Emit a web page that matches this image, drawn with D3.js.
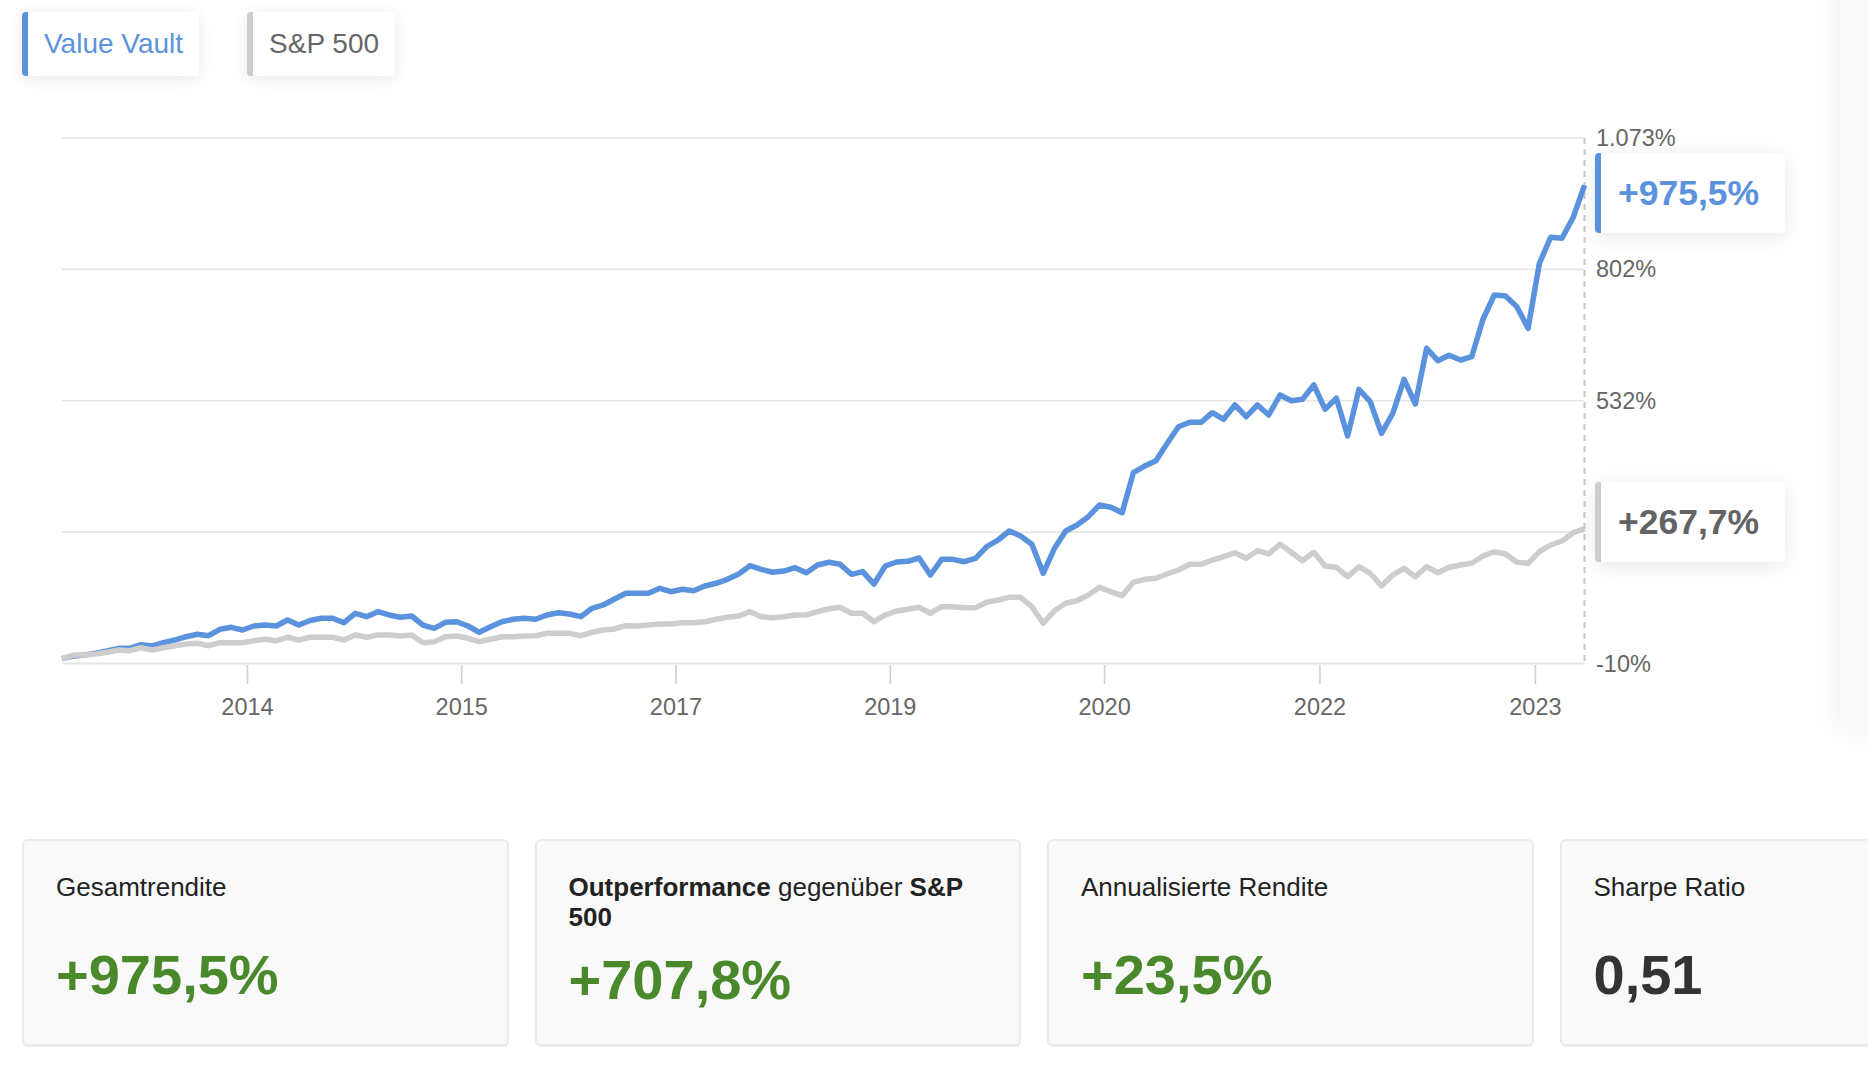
<!DOCTYPE html>
<html><head><meta charset="utf-8">
<script src="https://cdn.jsdelivr.net/npm/d3@7"></script>
<style>
html,body{margin:0;padding:0;background:#fff;width:1868px;height:1066px;overflow:hidden;font-family:"Liberation Sans",Arial,Helvetica,sans-serif;}
#root{position:relative;width:1868px;height:1066px;overflow:hidden;}
#chart{position:absolute;left:0;top:0;}
.legend{position:absolute;top:12px;left:22px;display:flex;gap:48px;}
.lg{height:64px;box-sizing:border-box;background:#fff;border-radius:4px;box-shadow:0 3px 16px rgba(0,0,0,0.09);font-size:28px;line-height:64px;padding:0 16px 0 16px;border-left:6px solid;white-space:nowrap;}
.side{position:absolute;left:1841px;top:-20px;width:80px;height:752px;background:#fafafa;border-radius:10px;box-shadow:-6px 0 26px rgba(0,0,0,0.05);}
.vbox{position:absolute;left:1595px;width:190px;height:80px;box-sizing:border-box;background:#fff;border-radius:4px;border-left:6px solid;box-shadow:0 4px 22px rgba(0,0,0,0.09);font-weight:bold;font-size:35.5px;line-height:80px;padding-left:17px;white-space:nowrap;}
.cards{position:absolute;left:22px;top:839px;display:flex;gap:26px;}
.card{position:relative;width:486.5px;height:208px;box-sizing:border-box;background:#f9f9f9;border:2px solid #ebebeb;border-bottom-width:3px;border-radius:6px;padding:31px 32px 0 32px;flex:none;}
.card .t{font-size:26px;line-height:30px;color:#222;}
.card .v{position:absolute;left:32px;top:102px;font-size:56px;line-height:64px;font-weight:bold;}
.card.two .v{top:107px;}
</style></head>
<body><div id="root"><svg id="chart" width="1868" height="1066"></svg></div>
<script>
// ---- data ----
const seriesNames = ["Value Vault", "S&P 500"];
const valueVault = [0,5.5,7.5,11,15.8,21.3,21.3,28.7,26.1,32.9,
38.4,45.2,50.2,47.3,60.5,64.6,59,67.3,69.3,67.3,
79.6,69.3,78.6,83.2,83.2,74.1,93.5,86.5,96.8,90,
85.2,87.9,69.3,62.5,74.9,76.1,67.3,54.3,65.8,76.1,
81.1,83.2,81.1,90,94.7,92,86.5,103.8,110.6,122.9,
134.7,134.7,134.7,145,138,142.9,140,149.7,155.3,163.5,
174.5,191.6,184.1,178,180.6,187.4,177.1,193,198.6,194.4,
173.8,179.2,153.8,190.9,199.2,200.6,207.4,172.4,204.7,204.7,
199.8,206.8,230.7,244.5,263.1,252.8,235.7,175.9,227.4,263.1,
275.4,292.5,316.7,311.9,300.8,383.2,397,407.9,443.8,478,
487.1,487.1,506.9,493.3,522.7,498.6,522.7,502.1,543.4,531.6,
534.5,564,513.9,536.6,458.9,555.1,529.5,464.4,505.6,575.7,
524.8,639.6,614,625.2,615.5,622.3,699.4,749.4,747.4,725.3,
680.8,814.8,868.4,866.3,909.6,975.5];
const sp500 = [0,7.5,7.5,9.6,13.1,17.8,16.4,22.6,17.8,22.6,
26.7,30.2,31.6,26.7,32.9,32.9,32.9,37,39.9,37,
44,38.4,44,44,44,38.4,48.7,44,48.7,48.7,
46.7,48.7,32.9,34.9,45.2,46.7,41.9,34.9,39.9,45.2,
45.2,46.7,47.3,52.2,52.2,52.2,47.3,54.3,59,61.1,
67.9,67.3,69.3,71.4,71.4,74.1,74.1,76.1,81.1,85.2,
87.9,96.8,86.5,84.4,86.5,90,90,96.8,102.9,105.8,
93.5,93.5,76.1,90,98.2,101.7,105.8,93.5,107.1,107.1,
105,105,116.1,120.9,126.4,126.4,107.1,72.8,98.8,114.1,
119.4,131.2,147,138,129.7,157.3,163.5,165.6,174.5,182.7,
194.4,194.4,203.3,210.1,218.3,206.8,222.5,215.7,235.7,219.2,
201.9,219.2,190.9,188.3,168.9,189.5,175.9,149.7,172.4,186.2,
168.9,189.5,177.1,188.3,193,196.5,211.5,220.4,215.7,198.6,
196.5,220.4,234.2,242.5,259.6,267.7];
const xTickIndex = [16.4, 35.4, 54.4, 73.4, 92.4, 111.5, 130.6];
const xTickLabels = ["2014", "2015", "2017", "2019", "2020", "2022", "2023"];
const yMin = -10, yMax = 1073;
const yTickCount = 5;
const yHiddenLabel = 1; // label hidden behind the S&P end-value box
const statTitles = ["Gesamtrendite", "<b>Outperformance</b> gegenüber <b>S&amp;P<br>500</b>", "Annualisierte Rendite", "Sharpe Ratio"];
const annualized = 23.5;
const sharpe = 0.51;

// ---- style ----
const BLUE = "#5a92de", GRAY = "#cdcdcd", GREEN = "#4a892b";
const seriesColors = [BLUE, GRAY];
const labelTextColors = [BLUE, "#636363"];
const labelNudge = [7.7, -6.8];

const de = d3.formatLocale({decimal: ",", thousands: ".", grouping: [3], currency: ["", "€"], minus: "-"});
const fmtAxis = de.format(",.0f");
const fmtPct = de.format("+,.1f");
const fmtNum = de.format(".2f");

const svg = d3.select("#chart");
const root = d3.select("#root");
const L = 62, R = 1584.5, T = 138, B = 663.5;
const n = valueVault.length;
const x = d3.scaleLinear().domain([0, n - 1]).range([L, R]);
const y = d3.scaleLinear().domain([yMin, yMax]).range([B, T]);
const yTicks = d3.range(yTickCount).map(i => yMin + (yMax - yMin) * i / (yTickCount - 1));

// right-side panel edge
root.insert("div", "#chart").attr("class", "side");

// gridlines
svg.append("g").selectAll("line").data(yTicks).join("line")
  .attr("x1", L).attr("x2", R)
  .attr("y1", d => y(d)).attr("y2", d => y(d))
  .attr("stroke", "#e6e6e6").attr("stroke-width", (d, i) => i === 0 ? 2.2 : 1.6);

// x axis
const xa = svg.append("g").attr("transform", `translate(0,${B + 1.5})`)
  .call(d3.axisBottom(x).tickValues(xTickIndex).tickFormat((d, i) => xTickLabels[i]).tickSize(19).tickPadding(14));
xa.select(".domain").remove();
xa.selectAll(".tick line").attr("stroke", "#cfcfcf").attr("stroke-width", 1.6);
xa.selectAll("text").attr("fill", "#666").attr("font-size", 23.5).attr("font-family", "Liberation Sans, Arial, sans-serif");

// y axis labels
const ya = svg.append("g").attr("transform", `translate(1596,0)`)
  .call(d3.axisRight(y).tickValues(yTicks.filter((d, i) => i !== yHiddenLabel)).tickFormat(d => fmtAxis(d) + "%").tickSize(0).tickPadding(0));
ya.select(".domain").remove();
ya.selectAll("text").attr("fill", "#666").attr("font-size", 23.5).attr("font-family", "Liberation Sans, Arial, sans-serif");

// dashed vertical line at last point
svg.append("line").attr("x1", x(n - 1)).attr("x2", x(n - 1)).attr("y1", T).attr("y2", B)
  .attr("stroke", "#c8c8c8").attr("stroke-width", 2).attr("stroke-dasharray", "6 5");

// lines
const line = d3.line().x((d, i) => x(i)).y(d => y(d));
[valueVault, sp500].forEach((s, k) => {
  svg.append("path").datum(s).attr("d", line).attr("fill", "none")
    .attr("stroke", seriesColors[k]).attr("stroke-width", 5.5)
    .attr("stroke-linejoin", "round").attr("stroke-linecap", "butt");
});

// legend
const lg = root.append("div").attr("class", "legend");
seriesNames.forEach((nm, k) => {
  lg.append("div").attr("class", "lg").style("border-left-color", seriesColors[k])
    .style("color", k === 0 ? BLUE : "#666").text(nm);
});

// end value boxes
[valueVault, sp500].forEach((s, k) => {
  const v = s[n - 1];
  root.append("div").attr("class", "vbox")
    .style("top", (y(v) - 40 + labelNudge[k]) + "px")
    .style("border-left-color", seriesColors[k])
    .style("color", labelTextColors[k])
    .text(fmtPct(v) + "%");
});

// stat cards
const total = valueVault[n - 1];
const outperf = total - sp500[n - 1];
const statValues = [fmtPct(total) + "%", fmtPct(outperf) + "%", fmtPct(annualized) + "%", fmtNum(sharpe)];
const statColors = [GREEN, GREEN, GREEN, "#333"];
const cards = root.append("div").attr("class", "cards");
statTitles.forEach((t, i) => {
  const c = cards.append("div").attr("class", "card" + (t.includes("<br>") ? " two" : ""));
  c.append("div").attr("class", "t").html(t);
  c.append("div").attr("class", "v").style("color", statColors[i]).text(statValues[i]);
});
</script></body></html>
